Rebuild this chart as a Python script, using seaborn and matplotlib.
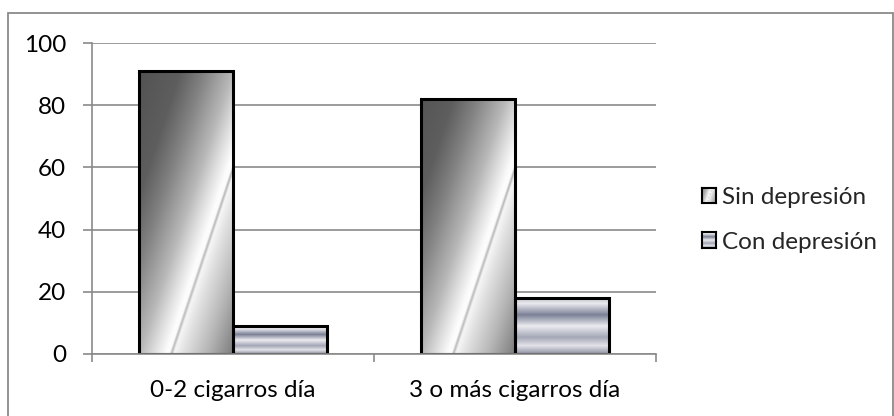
import numpy as np
import pandas as pd
import matplotlib
matplotlib.use("Agg")
import matplotlib.pyplot as plt
import seaborn as sns
from matplotlib.patches import Rectangle
from matplotlib.colors import to_rgb

# Datos
categorias = ["0-2 cigarros día", "3 o más cigarros día"]
series = ["Sin depresión", "Con depresión"]
sin_depresion = [91, 82]
con_depresion = [9, 18]
y_ticks = [0, 20, 40, 60, 80, 100]

df = pd.DataFrame({
    "grupo": categorias * 2,
    "estado": [series[0]] * len(categorias) + [series[1]] * len(categorias),
    "porcentaje": sin_depresion + con_depresion,
})

sns.set_style("white")
plt.rcParams["font.family"] = ["Lato", "DejaVu Sans"]

W_PX, H_PX, DPI = 894, 416, 100
GRIS = "#8a8a8a"
FS = 17.5
BASE = {series[0]: "#909090", series[1]: "#b0b3c0"}

fig = plt.figure(figsize=(W_PX / DPI, H_PX / DPI), dpi=DPI)
ax = fig.add_axes([92 / W_PX, 1 - 354 / H_PX, (656 - 92) / W_PX, (354 - 43) / H_PX])

sns.barplot(data=df, x="grupo", y="porcentaje", hue="estado",
            order=categorias, hue_order=series, palette=BASE, saturation=1,
            width=0.667, edgecolor="black", linewidth=2.2, legend=False, ax=ax)


# --- rellenos degradados -------------------------------------------------
def degradado_cromo(wp, hp):
    """Degradado diagonal gris con reflejo blanco."""
    px = np.arange(wp) + 0.5
    py = hp - (np.arange(hp) + 0.5)
    s = (px[None, :] - 0.33 * py[:, None]) / max(wp, 1)
    pos = [-1.0, -0.55, -0.3, 0.0, 0.16, 0.28, 0.32, 0.34, 0.365, 0.46, 0.72, 1.0]
    val = [0x52, 0x5e, 0x82, 0xb8, 0xe0, 0xfc, 0xfc, 0xb4, 0xf6, 0xe2, 0xb4, 0x7a]
    g = np.interp(s, pos, np.array(val) / 255.0)
    return np.dstack([g, g, g])


def degradado_plata(wp, hp):
    """Bandas horizontales gris azulado."""
    t = (np.arange(hp) + 0.5) / max(hp, 1)
    pos = [0.0, 0.1, 0.3, 0.5, 0.7, 0.85, 1.0]
    cols = ["#c6c7d0", "#e8e8ee", "#7c8196", "#ebebf0", "#a4a7b6", "#e2e2e8", "#8d90a2"]
    rgb = np.array([to_rgb(c) for c in cols])
    fila = np.stack([np.interp(t, pos, rgb[:, k]) for k in range(3)], axis=-1)
    return np.repeat(fila[:, None, :], max(wp, 1), axis=1)


RELLENO = {series[0]: degradado_cromo, series[1]: degradado_plata}

ax.set_xlim(-0.5, len(categorias) - 0.5)
ax.set_ylim(y_ticks[0], y_ticks[-1])
fig.canvas.draw()

base_rgb = {k: np.array(to_rgb(v)) for k, v in BASE.items()}
for p in list(ax.patches):
    fc = np.array(p.get_facecolor()[:3])
    nombre = min(base_rgb, key=lambda k: np.abs(base_rgb[k] - fc).sum())
    x0, y0, w, h = p.get_x(), p.get_y(), p.get_width(), p.get_height()
    (a0, b0), (a1, b1) = ax.transData.transform([(x0, y0), (x0 + w, y0 + h)])
    wp, hp = int(round(abs(a1 - a0))), int(round(abs(b1 - b0)))
    img = RELLENO[nombre](max(wp, 2), max(hp, 2))
    ax.imshow(img, extent=(x0, x0 + w, y0, y0 + h), origin="upper",
              aspect="auto", interpolation="bilinear", zorder=0.9)
    p.set_facecolor("none")
    p.set_zorder(1)

ax.set_xlim(-0.5, len(categorias) - 0.5)
ax.set_ylim(y_ticks[0], y_ticks[-1])

# --- ejes ---------------------------------------------------------------
ax.set_yticks(y_ticks)
ax.yaxis.grid(True, color=GRIS, linewidth=1.2)
ax.xaxis.grid(False)
ax.set_axisbelow(True)
ax.set_xlabel("")
ax.set_ylabel("")
for lado in ("top", "right"):
    ax.spines[lado].set_visible(False)
for lado in ("left", "bottom"):
    ax.spines[lado].set_color(GRIS)
    ax.spines[lado].set_linewidth(1.2)

ax.set_xticks(np.arange(-0.5, len(categorias)), minor=True)
ax.tick_params(axis="y", direction="out", length=6.5, width=1.2, color=GRIS,
               pad=12, labelsize=FS, labelcolor="black", left=True)
ax.tick_params(axis="x", which="major", length=0, pad=19, labelsize=FS,
               labelcolor="black")
ax.tick_params(axis="x", which="minor", direction="out", length=6, width=1.2,
               color=GRIS, bottom=True)

# --- leyenda -------------------------------------------------------------
manijas = [Rectangle((0, 0), 1, 1, facecolor="none", edgecolor="none", linewidth=0)
           for _ in series]
leg = fig.legend(manijas, series, loc="center left",
                 bbox_to_anchor=(702 / W_PX, 1 - 220 / H_PX),
                 frameon=False, fontsize=FS, handlelength=0.58, handleheight=0.58,
                 handletextpad=0.25, labelspacing=0.95, borderpad=0, borderaxespad=0)

# marco exterior del gráfico
fig.add_artist(Rectangle((8 / W_PX, -0.1), (893 - 8) / W_PX, 1 - 13 / H_PX + 0.1,
                         transform=fig.transFigure, fill=False, edgecolor=GRIS,
                         linewidth=1.3, clip_on=False))

fig.canvas.draw()
rend = fig.canvas.get_renderer()
for nombre, parche in zip(series, leg.get_patches()):
    bb = parche.get_window_extent(rend)
    cax = fig.add_axes([bb.x0 / W_PX, bb.y0 / H_PX, bb.width / W_PX, bb.height / H_PX])
    cax.set_zorder(10)
    n = max(int(round(bb.width)), 2)
    m = max(int(round(bb.height)), 2)
    cax.imshow(RELLENO[nombre](n, m), aspect="auto", interpolation="bilinear")
    cax.set_xticks([])
    cax.set_yticks([])
    for sp in cax.spines.values():
        sp.set_color("black")
        sp.set_linewidth(1.5)

fig.savefig("out.png", dpi=DPI)
